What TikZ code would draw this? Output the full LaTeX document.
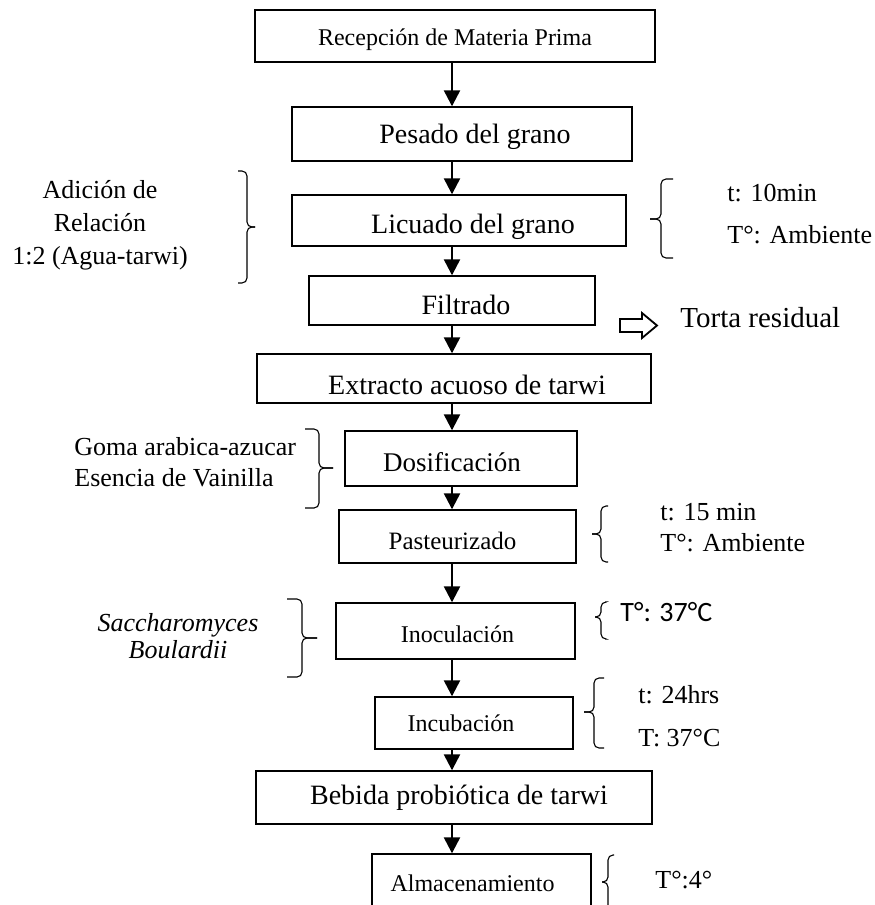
\documentclass[tikz,border=0pt]{standalone}
\usepackage{fontspec}
\setmainfont{Liberation Serif}
\newfontfamily\sansnota{Carlito}
\usepackage{tikz}
\usetikzlibrary{positioning}
\usetikzlibrary{arrows.meta}

\begin{document}
\begin{tikzpicture}[
    x=0.5pt, y=-0.5pt, % pixel grid of the scanned figure
    font=\fontsize{13pt}{15pt}\selectfont,
    >={Triangle[width=8pt,length=8pt]}
  ]

  % Styles for the process chart
  \tikzset{
    paso/.style={draw, line width=0.7pt, inner sep=0pt},
    rotulo/.style={inner sep=0pt, font=\fontsize{#1}{16pt}\selectfont},
    flecha/.style={->, line width=1.2pt},
    nota/.style={inner sep=0pt, anchor=west, align=left},
    llave/.style={line width=0.55pt, rounded corners=2.5pt}
  }

  \useasboundingbox (0,0) rectangle (874,905);
  \clip (0,0) rectangle (874,905);

  % Process steps (boxes)
  \node (rec) [paso, minimum width=200pt, minimum height=26pt] at (455,36) {};
  \node (pes) [paso, minimum width=170pt, minimum height=27pt] at (462,134) {};
  \node (lic) [paso, minimum width=167pt, minimum height=25.5pt] at (459,220.5) {};
  \node (fil) [paso, minimum width=143pt, minimum height=24.5pt] at (452,300.5) {};
  \node (ext) [paso, minimum width=197pt, minimum height=24.5pt] at (454,378.5) {};
  \node (dos) [paso, minimum width=116pt, minimum height=27.5pt] at (461,458.5) {};
  \node (pas) [paso, minimum width=118.5pt, minimum height=26.5pt] at (457.5,536.5) {};
  \node (ino) [paso, minimum width=119.5pt, minimum height=28pt] at (455.5,631) {};
  \node (inc) [paso, minimum width=99pt, minimum height=26pt] at (474,723) {};
  \node (beb) [paso, minimum width=198pt, minimum height=26.5pt] at (454,797.5) {};
  \node (alm) [paso, minimum width=109.5pt, minimum height=29pt] at (481.5,883) {};

  % Step names, set a little right of centre as in the scan
  \node (rec-t) [rotulo=12pt, yshift=-2pt] at (rec) {Recepción de Materia Prima};
  \node (pes-t) [rotulo=14pt, xshift=6.5pt, yshift=-1.5pt] at (pes) {Pesado del grano};
  \node (lic-t) [rotulo=14pt, xshift=7pt, yshift=-3.2pt] at (lic) {Licuado del grano};
  \node (fil-t) [rotulo=14pt, xshift=7pt, yshift=-2.2pt] at (fil) {Filtrado};
  \node (ext-t) [rotulo=14pt, xshift=6.5pt, yshift=-3.2pt] at (ext) {Extracto acuoso de tarwi};
  \node (dos-t) [rotulo=13.5pt, xshift=-4.5pt, yshift=-2pt] at (dos) {Dosificación};
  \node (pas-t) [rotulo=12.5pt, xshift=-2.5pt, yshift=-2pt] at (pas) {Pasteurizado};
  \node (ino-t) [rotulo=12pt, xshift=1pt, yshift=-1.5pt] at (ino) {Inoculación};
  \node (inc-t) [rotulo=12pt, xshift=-6.5pt] at (inc) {Incubación};
  \node (beb-t) [rotulo=14pt, xshift=2.5pt] at (beb) {Bebida probiótica de tarwi};
  \node (alm-t) [rotulo=12pt, xshift=-4.5pt] at (alm) {Almacenamiento};

  % Main flow line
  \coordinate (eje) at (452,0);
  \draw[flecha] (rec.south -| eje) -- (pes.north -| eje);
  \draw[flecha] (pes.south -| eje) -- (lic.north -| eje);
  \draw[flecha] (lic.south -| eje) -- (fil.north -| eje);
  \draw[flecha] (fil.south -| eje) -- (ext.north -| eje);
  \draw[flecha] (ext.south -| eje) -- (dos.north -| eje);
  \draw[flecha] (dos.south -| eje) -- (pas.north -| eje);
  \draw[flecha] (pas.south -| eje) -- (ino.north -| eje);
  \draw[flecha] (ino.south -| eje) -- (inc.north -| eje);
  \draw[flecha] (inc.south -| eje) -- (beb.north -| eje);
  \draw[flecha] (beb.south -| eje) -- (alm.north -| eje);

  % Inputs on the left
  \node (adicion) [inner sep=0pt, align=center, font=\fontsize{13pt}{16.5pt}\selectfont] at (100,225) {Adición de\\Relación\\1:2 (Agua-tarwi)};
  \draw[llave] (238,171) -- (247,171) -- (247,227) -- (255,227);
  \draw[llave] (255,227) -- (247,227) -- (247,283) -- (238,283);
  \node (goma) [nota, font=\fontsize{13pt}{15.5pt}\selectfont] at (74,462.5) {Goma arabica-azucar\\Esencia de Vainilla};
  \draw[llave] (305,429) -- (319,429) -- (319,468) -- (333,468);
  \draw[llave] (333,468) -- (319,468) -- (319,508) -- (305,508);
  \node (sacch) [inner sep=0pt, align=center, font=\fontsize{13pt}{13.5pt}\selectfont\itshape] at (178,636.5) {Saccharomyces\\Boulardii};
  \draw[llave] (287,599) -- (302,599) -- (302,638) -- (317,638);
  \draw[llave] (317,638) -- (302,638) -- (302,677) -- (287,677);

  % Conditions on the right
  \draw[llave] (673,179) -- (661,179) -- (661,219) -- (650,219);
  \draw[llave] (650,219) -- (661,219) -- (661,258) -- (673,258);
  \node (condlic) [nota, font=\fontsize{13pt}{21pt}\selectfont] at (727,214) {t: 10min\\T°: Ambiente};
  \draw[line width=0.9pt, line join=miter] (620,319) -- (642,319) -- (642,313) -- (657,325.5) -- (642,338) -- (642,332) -- (620,332) -- cycle;
  \node (torta) [nota, font=\fontsize{14.5pt}{16pt}\selectfont] at (680,318) {Torta residual};
  \draw[llave] (608,506) -- (601,506) -- (601,534) -- (592,534);
  \draw[llave] (592,534) -- (601,534) -- (601,562) -- (608,562);
  \node (condpas) [nota, font=\fontsize{13pt}{15.5pt}\selectfont] at (660,527.5) {t: 15 min\\T°: Ambiente};
  \draw[llave] (605,602) -- (601,602) -- (601,617) -- (595,617);
  \draw[llave] (595,617) -- (601,617) -- (601,639) -- (605,639);
  \node (condino) [nota, font=\fontsize{14pt}{16pt}\sansnota] at (620,612) {T°: 37°C};
  \draw[llave] (604,678) -- (594,678) -- (594,712) -- (584,712);
  \draw[llave] (584,712) -- (594,712) -- (594,748) -- (604,748);
  \node (condinc) [nota, font=\fontsize{13pt}{21.5pt}\selectfont] at (638,716.5) {t: 24hrs\\T: 37°C};
  \draw[llave] (614,855) -- (608,855) -- (608,882) -- (602,882);
  \draw[llave] (602,882) -- (608,882) -- (608,912) -- (614,912);
  \node (condalm) [nota] at (655,880) {T°:4°};

\end{tikzpicture}
\end{document}
